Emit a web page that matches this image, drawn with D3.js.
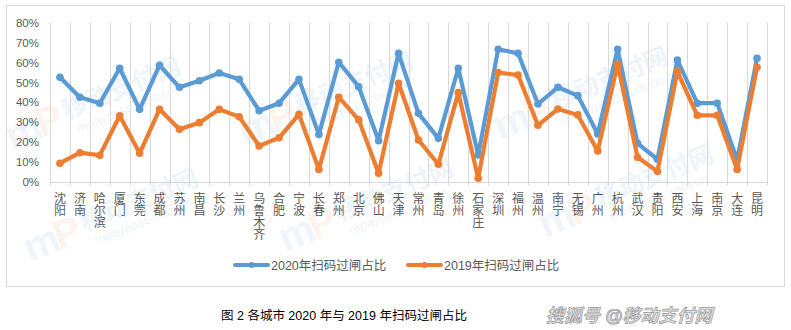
<!DOCTYPE html>
<html>
<head>
<meta charset="utf-8">
<script src="https://cdn.jsdelivr.net/npm/d3@7"></script>
<style>
  html, body { margin: 0; padding: 0; background: #fff; }
  svg { display: block; }
  text { font-family: "Liberation Sans", "Noto Sans CJK SC", sans-serif; }
  .vlabel { writing-mode: vertical-rl; text-orientation: upright; }
</style>
</head>
<body>
<svg id="chart" width="791" height="330"></svg>
<script>
// ---- data ----
const cities = ["沈阳","济南","哈尔滨","厦门","东莞","成都","苏州","南昌","长沙","兰州","乌鲁木齐","合肥","宁波","长春","郑州","北京","佛山","天津","常州","青岛","徐州","石家庄","深圳","福州","温州","南宁","无锡","广州","杭州","武汉","贵阳","西安","上海","南京","大连","昆明"];
const v2020 = [52.5,42.5,39.5,57.1,36.4,58.6,47.5,50.8,54.7,51.5,35.7,39.5,51.5,23.8,60.1,47.8,20.6,64.6,34.4,21.8,57.1,13.4,66.6,64.6,39.1,47.5,43.3,24.0,66.6,19.3,11.3,61.2,39.5,39.5,10.9,62.1];
const v2019 = [9.3,14.6,13.3,33.2,14.3,36.4,26.4,29.7,36.4,32.7,18.0,22.1,33.9,6.2,42.5,31.1,4.2,49.5,21.0,8.8,44.8,1.7,54.9,53.7,28.4,36.6,33.6,15.5,59.1,12.3,5.2,55.4,33.4,33.4,6.2,57.6];
const yTicks = [0,10,20,30,40,50,60,70,80];
const seriesNames = ["2020年扫码过闸占比","2019年扫码过闸占比"];
const caption = "图 2 各城市 2020 年与 2019 年扫码过闸占比";
const sourceMark = "搜狐号 @移动支付网";
const wmText = "移动支付网";
const wmUrl = "mpaypass.com.cn";

// ---- layout ----
const svg = d3.select("#chart");
const W = 791, H = 330;
const plot = {left: 50, right: 767, top: 22.7, bottom: 181.7};
const blue = "#5B9BD5", orange = "#ED7D31", grid = "#D9D9D9", txt = "#595959";

svg.append("rect").attr("width", W).attr("height", H).attr("fill", "#fff");

// faint watermark (behind everything)
const wmPos = [[12,150],[245,145],[500,140],[30,262],[285,252],[545,238]];
const wm = svg.append("g").attr("class", "watermark");
wmPos.forEach(([x,y]) => {
  const g = wm.append("g").attr("transform", `translate(${x},${y}) rotate(-22)`);
  g.append("text").attr("x", 0).attr("y", 0).attr("font-size", 40).attr("font-weight", "bold")
    .attr("fill", blue).attr("opacity", 0.09).text("m");
  g.append("text").attr("x", 32).attr("y", 0).attr("font-size", 40).attr("font-weight", "bold")
    .attr("fill", orange).attr("opacity", 0.08).text("P");
  g.append("text").attr("x", 62).attr("y", -8).attr("font-size", 25).attr("font-weight", "bold")
    .attr("fill", blue).attr("opacity", 0.1).text(wmText);
  g.append("text").attr("x", 68).attr("y", 9).attr("font-size", 13)
    .attr("fill", blue).attr("opacity", 0.1).text(wmUrl);
});

// chart border
svg.append("rect").attr("x", 6.5).attr("y", 5.5).attr("width", 778).attr("height", 281)
  .attr("fill", "none").attr("stroke", grid).attr("stroke-width", 1);

const x = d3.scaleBand().domain(cities).range([plot.left, plot.right]).padding(0);
const y = d3.scaleLinear().domain([0, 80]).range([plot.bottom, plot.top]);
const cx = d => x(d) + x.bandwidth() / 2;

// vertical category gridlines (between categories)
const bounds = cities.map(c => x(c)).concat([plot.right]);
svg.append("g").selectAll("line").data(bounds).join("line")
  .attr("x1", d => Math.round(d) + 0.5).attr("x2", d => Math.round(d) + 0.5)
  .attr("y1", plot.top).attr("y2", plot.bottom + 4)
  .attr("stroke", grid).attr("stroke-width", 1);

// x axis line
svg.append("line").attr("x1", plot.left).attr("x2", plot.right)
  .attr("y1", Math.round(plot.bottom) + 0.5).attr("y2", Math.round(plot.bottom) + 0.5)
  .attr("stroke", grid);

// y axis labels
const yAxis = d3.axisLeft(y).tickValues(yTicks).tickSize(0).tickPadding(11).tickFormat(d => d + "%");
const ya = svg.append("g").attr("transform", `translate(${plot.left},0)`).call(yAxis);
ya.select(".domain").remove();
ya.selectAll("text").attr("font-size", 11.5).attr("fill", txt)
  .style("font-family", '"Liberation Sans", sans-serif');

// x labels (vertical text)
svg.append("g").selectAll("text").data(cities).join("text")
  .attr("class", "vlabel")
  .attr("x", d => cx(d)).attr("y", 192)
  .attr("font-size", 12).attr("fill", txt)
  .style("font-family", '"Noto Sans CJK SC", sans-serif')
  .text(d => d);

// lines
const line = d3.line().x((d, i) => cx(cities[i])).y(d => y(d));
[[v2020, blue], [v2019, orange]].forEach(([vals, col]) => {
  svg.append("path").datum(vals).attr("d", line).attr("fill", "none")
    .attr("stroke", col).attr("stroke-width", 4.2).attr("stroke-linejoin", "round").attr("stroke-linecap", "round");
  svg.append("g").selectAll("circle").data(vals).join("circle")
    .attr("cx", (d, i) => cx(cities[i])).attr("cy", d => y(d)).attr("r", 3.8).attr("fill", col);
});

// legend
const legend = [
  {name: seriesNames[0], col: blue, x1: 235, x2: 268, tx: 271},
  {name: seriesNames[1], col: orange, x1: 408, x2: 441, tx: 444}
];
legend.forEach(l => {
  svg.append("line").attr("x1", l.x1).attr("x2", l.x2).attr("y1", 265).attr("y2", 265)
    .attr("stroke", l.col).attr("stroke-width", 4).attr("stroke-linecap", "round");
  svg.append("circle").attr("cx", (l.x1 + l.x2) / 2).attr("cy", 265).attr("r", 3).attr("fill", l.col);
  svg.append("text").attr("x", l.tx).attr("y", 269.5).attr("font-size", 12.5).attr("fill", txt).text(l.name);
});

// caption
svg.append("text").attr("x", 221).attr("y", 320).attr("font-size", 12.5).attr("fill", "#000").text(caption);

// source mark
svg.append("text").attr("x", 546).attr("y", 322).attr("font-size", 18).attr("font-style", "italic")
  .attr("font-weight", "bold").attr("fill", "#e2e2e2").attr("stroke", "#9a9a9a").attr("stroke-width", 0.7)
  .text(sourceMark);
</script>
</body>
</html>
